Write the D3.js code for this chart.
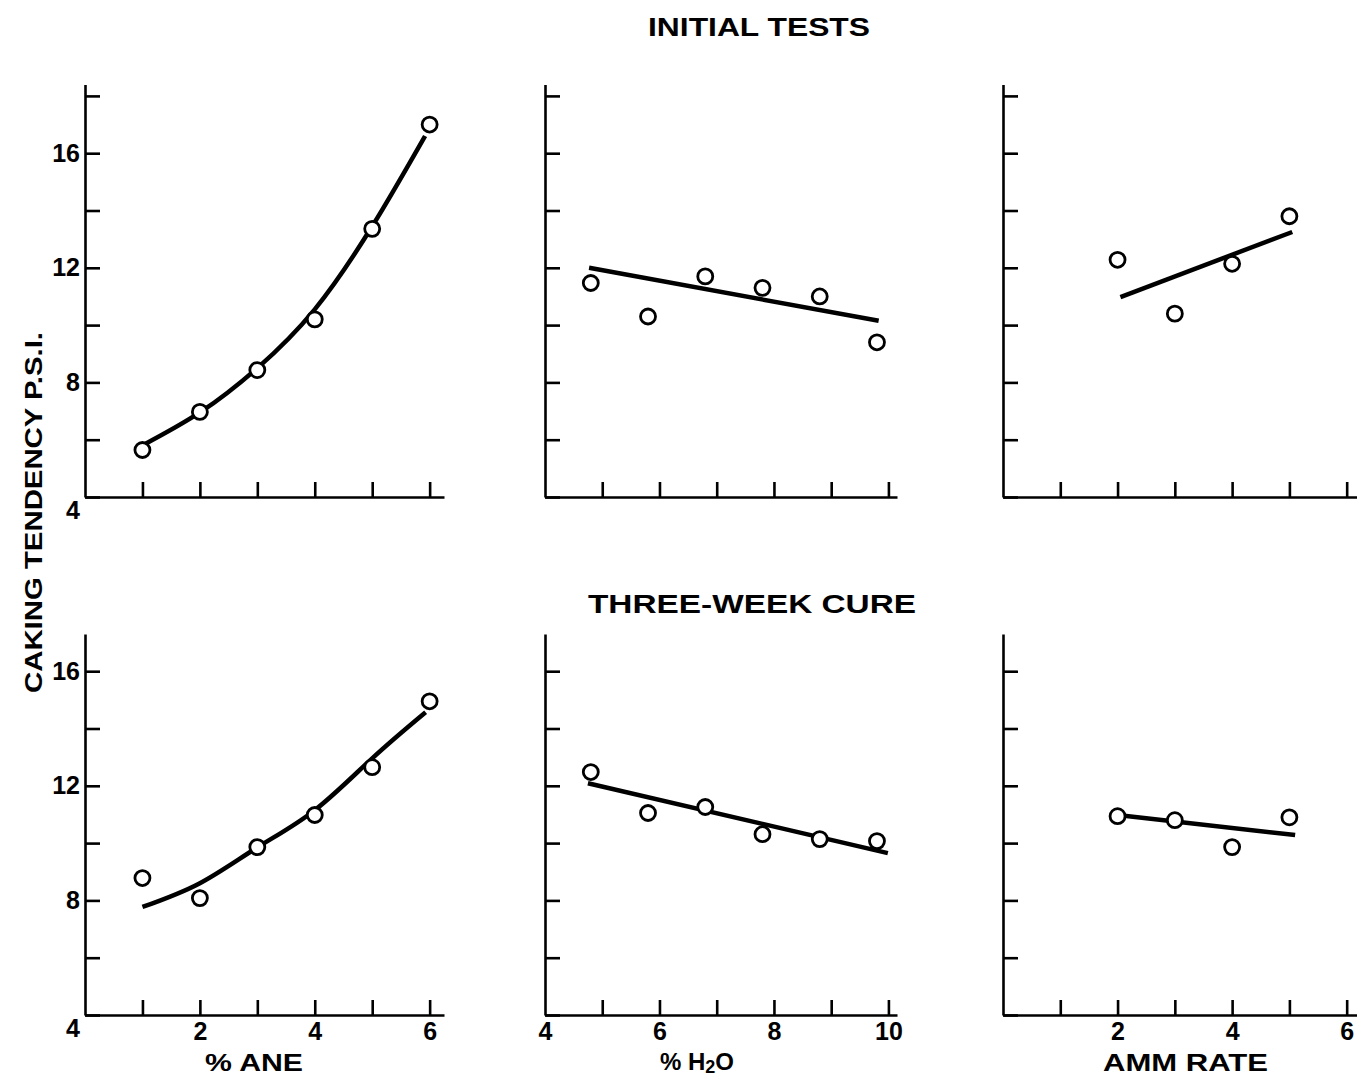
<!DOCTYPE html>
<html>
<head>
<meta charset="utf-8">
<script src="https://cdn.jsdelivr.net/npm/d3@7"></script>
<style>
  body { margin: 0; background: #fff; }
  text { font-family: "Liberation Sans", Arial, sans-serif; font-weight: bold; fill: #000; }
</style>
</head>
<body>
<script>
let width = 1357;
let height = 1080;

// data
const aneX = [1, 2, 3, 4, 5, 6];
const initAne = [5.64, 6.97, 8.43, 10.2, 13.36, 17.0];
const cureAne = [8.78, 8.08, 9.86, 10.98, 12.65, 14.95];
const h2oX = [4.8, 5.8, 6.8, 7.8, 8.8, 9.8];
const initH2o = [11.47, 10.3, 11.7, 11.3, 11.0, 9.4];
const cureH2o = [12.48, 11.05, 11.26, 10.31, 10.14, 10.07];
const ammX = [2, 3, 4, 5];
const initAmm = [12.28, 10.4, 12.14, 13.8];
const cureAmm = [10.94, 10.8, 9.86, 10.9];

// fitted curves / lines as drawn
const initAneCurve = [[1, 5.8], [2, 6.95], [3, 8.5], [4, 10.55], [5, 13.45], [5.92, 16.6]];
const cureAneCurve = [[1, 7.77], [2, 8.6], [3, 9.85], [4, 11.15], [5, 12.96], [5.93, 14.57]];
const initH2oLine = [[4.77, 12.0], [9.83, 10.15]];
const cureH2oLine = [[4.75, 12.09], [9.99, 9.65]];
const initAmmLine = [[2.05, 10.98], [5.05, 13.25]];
const cureAmmLine = [[2.0, 10.98], [5.1, 10.28]];

const yTicks = [4, 6, 8, 10, 12, 14, 16, 18];
const yLabels = [4, 8, 12, 16];

const cols = [
  { domain: [0, 6.25], range: [85, 444], ticks: [1, 2, 3, 4, 5, 6], labels: [2, 4, 6] },
  { domain: [4, 10.15], range: [545, 897], ticks: [4, 5, 6, 7, 8, 9, 10], labels: [4, 6, 8, 10] },
  { domain: [0, 6.25], range: [1003, 1361], ticks: [1, 2, 3, 4, 5, 6], labels: [2, 4, 6] }
];
const rows = [
  { y4: 497, top: 18.4 },
  { y4: 1015, top: 17.3 }
];
const unit = 28.65;

const panels = [
  { row: 0, col: 0, x: aneX, y: initAne, fit: initAneCurve, curve: d3.curveNatural },
  { row: 0, col: 1, x: h2oX, y: initH2o, fit: initH2oLine, curve: d3.curveLinear },
  { row: 0, col: 2, x: ammX, y: initAmm, fit: initAmmLine, curve: d3.curveLinear },
  { row: 1, col: 0, x: aneX, y: cureAne, fit: cureAneCurve, curve: d3.curveNatural },
  { row: 1, col: 1, x: h2oX, y: cureH2o, fit: cureH2oLine, curve: d3.curveLinear },
  { row: 1, col: 2, x: ammX, y: cureAmm, fit: cureAmmLine, curve: d3.curveLinear }
];

let svg = d3.select("body").append("svg")
  .attr("width", width)
  .attr("height", height);

panels.forEach(p => {
  let c = cols[p.col], r = rows[p.row];
  let x = d3.scaleLinear().domain(c.domain).range(c.range);
  let y = d3.scaleLinear().domain([4, r.top]).range([r.y4, r.y4 - (r.top - 4) * unit]);
  let g = svg.append("g");

  let yAxis = d3.axisLeft(y)
    .tickValues(yTicks.filter(v => v <= r.top))
    .tickSizeInner(-15)
    .tickSizeOuter(0)
    .tickPadding(5)
    .tickFormat(d => (p.col === 0 && yLabels.includes(d)) ? d : "");
  let ya = g.append("g").attr("transform", `translate(${c.range[0]},0)`).call(yAxis);

  let xAxis = d3.axisBottom(x)
    .tickValues(c.ticks)
    .tickSizeInner(-15)
    .tickSizeOuter(0)
    .tickPadding(7)
    .tickFormat(d => (p.row === 1 && c.labels.includes(d)) ? d : "");
  let xa = g.append("g").attr("transform", `translate(0,${r.y4})`).call(xAxis);

  [ya, xa].forEach(a => {
    a.selectAll("path, line").attr("stroke", "#000").attr("stroke-width", 2.6);
    a.selectAll("text").attr("fill", "#000").style("font-size", "25px");
  });
  // the "4" on the y axis sits below the corner
  ya.selectAll(".tick").filter(d => d === 4).select("text").attr("dy", "0.85em");
  if (p.col === 1) xa.selectAll(".tick").filter(d => d === 4).select("line").remove();

  g.append("path")
    .datum(p.fit)
    .attr("fill", "none")
    .attr("stroke", "#000")
    .attr("stroke-width", 4.5)
    .attr("stroke-linecap", "butt")
    .attr("d", d3.line().x(d => x(d[0])).y(d => y(d[1])).curve(p.curve));

  g.selectAll("circle")
    .data(p.x.map((v, i) => [v, p.y[i]]))
    .enter().append("circle")
    .attr("cx", d => x(d[0]))
    .attr("cy", d => y(d[1]))
    .attr("r", 7.5)
    .attr("fill", "#fff")
    .attr("stroke", "#000")
    .attr("stroke-width", 2.8);
});

svg.append("text")
  .attr("x", 648).attr("y", 36)
  .attr("textLength", 222).attr("lengthAdjust", "spacingAndGlyphs")
  .style("font-size", "25px")
  .text("INITIAL  TESTS");

svg.append("text")
  .attr("x", 588).attr("y", 613)
  .attr("textLength", 328).attr("lengthAdjust", "spacingAndGlyphs")
  .style("font-size", "25px")
  .text("THREE-WEEK  CURE");

svg.append("text")
  .attr("transform", "translate(42,693) rotate(-90)")
  .attr("textLength", 361).attr("lengthAdjust", "spacingAndGlyphs")
  .style("font-size", "24px")
  .text("CAKING  TENDENCY  P.S.I.");

// x axis titles
svg.append("text")
  .attr("x", 205).attr("y", 1071)
  .attr("textLength", 98).attr("lengthAdjust", "spacingAndGlyphs")
  .style("font-size", "24px")
  .text("% ANE");

let h2o = svg.append("text")
  .attr("x", 660).attr("y", 1070)
  .style("font-size", "24px");
h2o.append("tspan").text("% H");
h2o.append("tspan").attr("dy", 3).style("font-size", "18px").text("2");
h2o.append("tspan").attr("dy", -3).text("O");

svg.append("text")
  .attr("x", 1103).attr("y", 1071)
  .attr("textLength", 165).attr("lengthAdjust", "spacingAndGlyphs")
  .style("font-size", "24px")
  .text("AMM RATE");
</script>
</body>
</html>
